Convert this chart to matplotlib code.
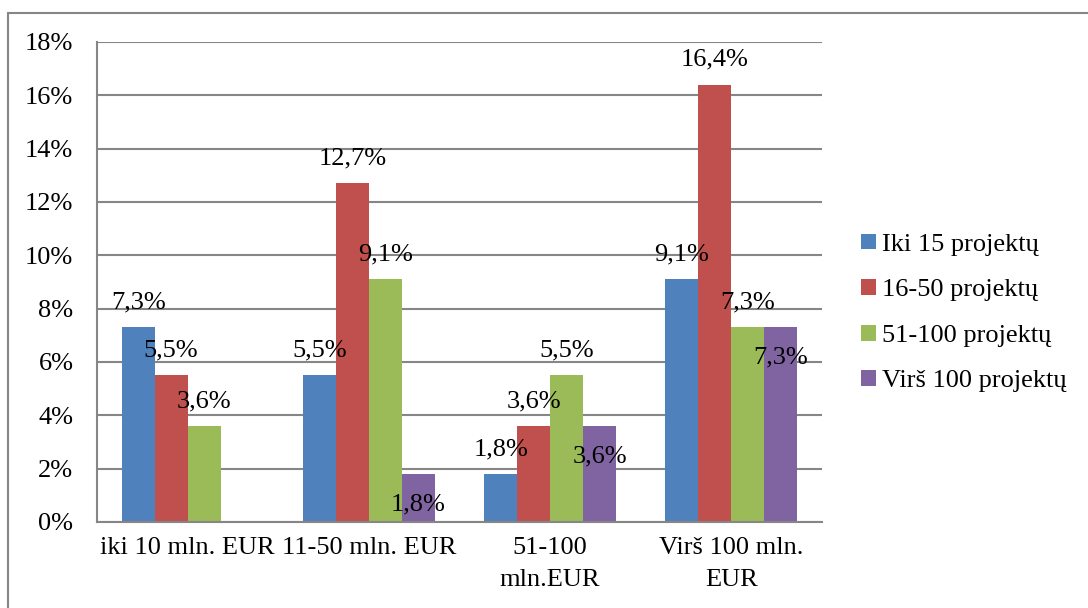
import matplotlib.pyplot as plt
import matplotlib.patches as mpatches
import numpy as np

# Data (percent)
categories = ['iki 10 mln. EUR', '11-50 mln. EUR', '51-100\nmln.EUR', 'Virš 100 mln.\nEUR']
series_names = ['Iki 15 projektų', '16-50 projektų', '51-100 projektų', 'Virš 100 projektų']
iki15 = [7.3, 5.5, 1.8, 9.1]
p16_50 = [5.5, 12.7, 3.6, 16.4]
p51_100 = [3.6, 9.1, 5.5, 7.3]
virs100 = [np.nan, 1.8, 3.6, 7.3]
colors = ['#4F81BD', '#C0504D', '#9BBB59', '#8064A2']
yticks = [0, 2, 4, 6, 8, 10, 12, 14, 16, 18]

plt.rcParams['font.family'] = ['Liberation Serif', 'DejaVu Serif']
FS = 19
GRAY = '#868686'

fig = plt.figure(figsize=(10.88, 6.08), dpi=100)
ax = fig.add_axes([97 / 1088, 1 - 522 / 608, (822 - 97) / 1088, (522 - 42) / 608])

all_series = [iki15, p16_50, p51_100, virs100]
x = np.arange(len(categories))
width = 1 / 5.5  # Excel gap width 150%

for i, (vals, name, col) in enumerate(zip(all_series, series_names, colors)):
    pos = x + (i - 1.5) * width
    ax.bar(pos, vals, width, color=col, label=name, zorder=2)
    for px, v in zip(pos, vals):
        if np.isnan(v):
            continue
        # last series labels sit inside the bar top, the rest above it
        dy = -22 if i == 3 else 18
        ax.annotate(f'{v:.1f}%'.replace('.', ','), (px, v), xytext=(0, dy),
                    textcoords='offset points', ha='center', va='center',
                    fontsize=FS, zorder=3)

ax.set_xlim(-0.5, len(categories) - 0.5)
ax.set_ylim(0, 18)
ax.set_yticks(yticks)
ax.set_yticklabels([f'{t}%' for t in yticks])
ax.set_xticks(x)
ax.set_xticklabels(categories, linespacing=1.6)
ax.tick_params(axis='y', length=0, pad=17, labelsize=FS)
ax.tick_params(axis='x', length=0, pad=11, labelsize=FS)

ax.yaxis.grid(True, color=GRAY, lw=1.5, zorder=0)
ax.set_axisbelow(True)
for side in ['top', 'right']:
    ax.spines[side].set_visible(False)
for side in ['left', 'bottom']:
    ax.spines[side].set_color(GRAY)
    ax.spines[side].set_linewidth(1.5)

fig.legend(loc='center left', bbox_to_anchor=(861 / 1088, 1 - 313 / 608),
           frameon=False, fontsize=FS, handlelength=0.55, handleheight=0.55,
           handletextpad=0.25, labelspacing=0.88, borderpad=0, borderaxespad=0)

# outer chart border (cropped at right and bottom)
fig.patches.append(mpatches.Rectangle((8 / 1088, -0.1), 1.2, 1 - 13 / 608 + 0.1,
                                      transform=fig.transFigure, fill=False,
                                      edgecolor=GRAY, lw=1.5))

fig.savefig('out.png', dpi=100)
